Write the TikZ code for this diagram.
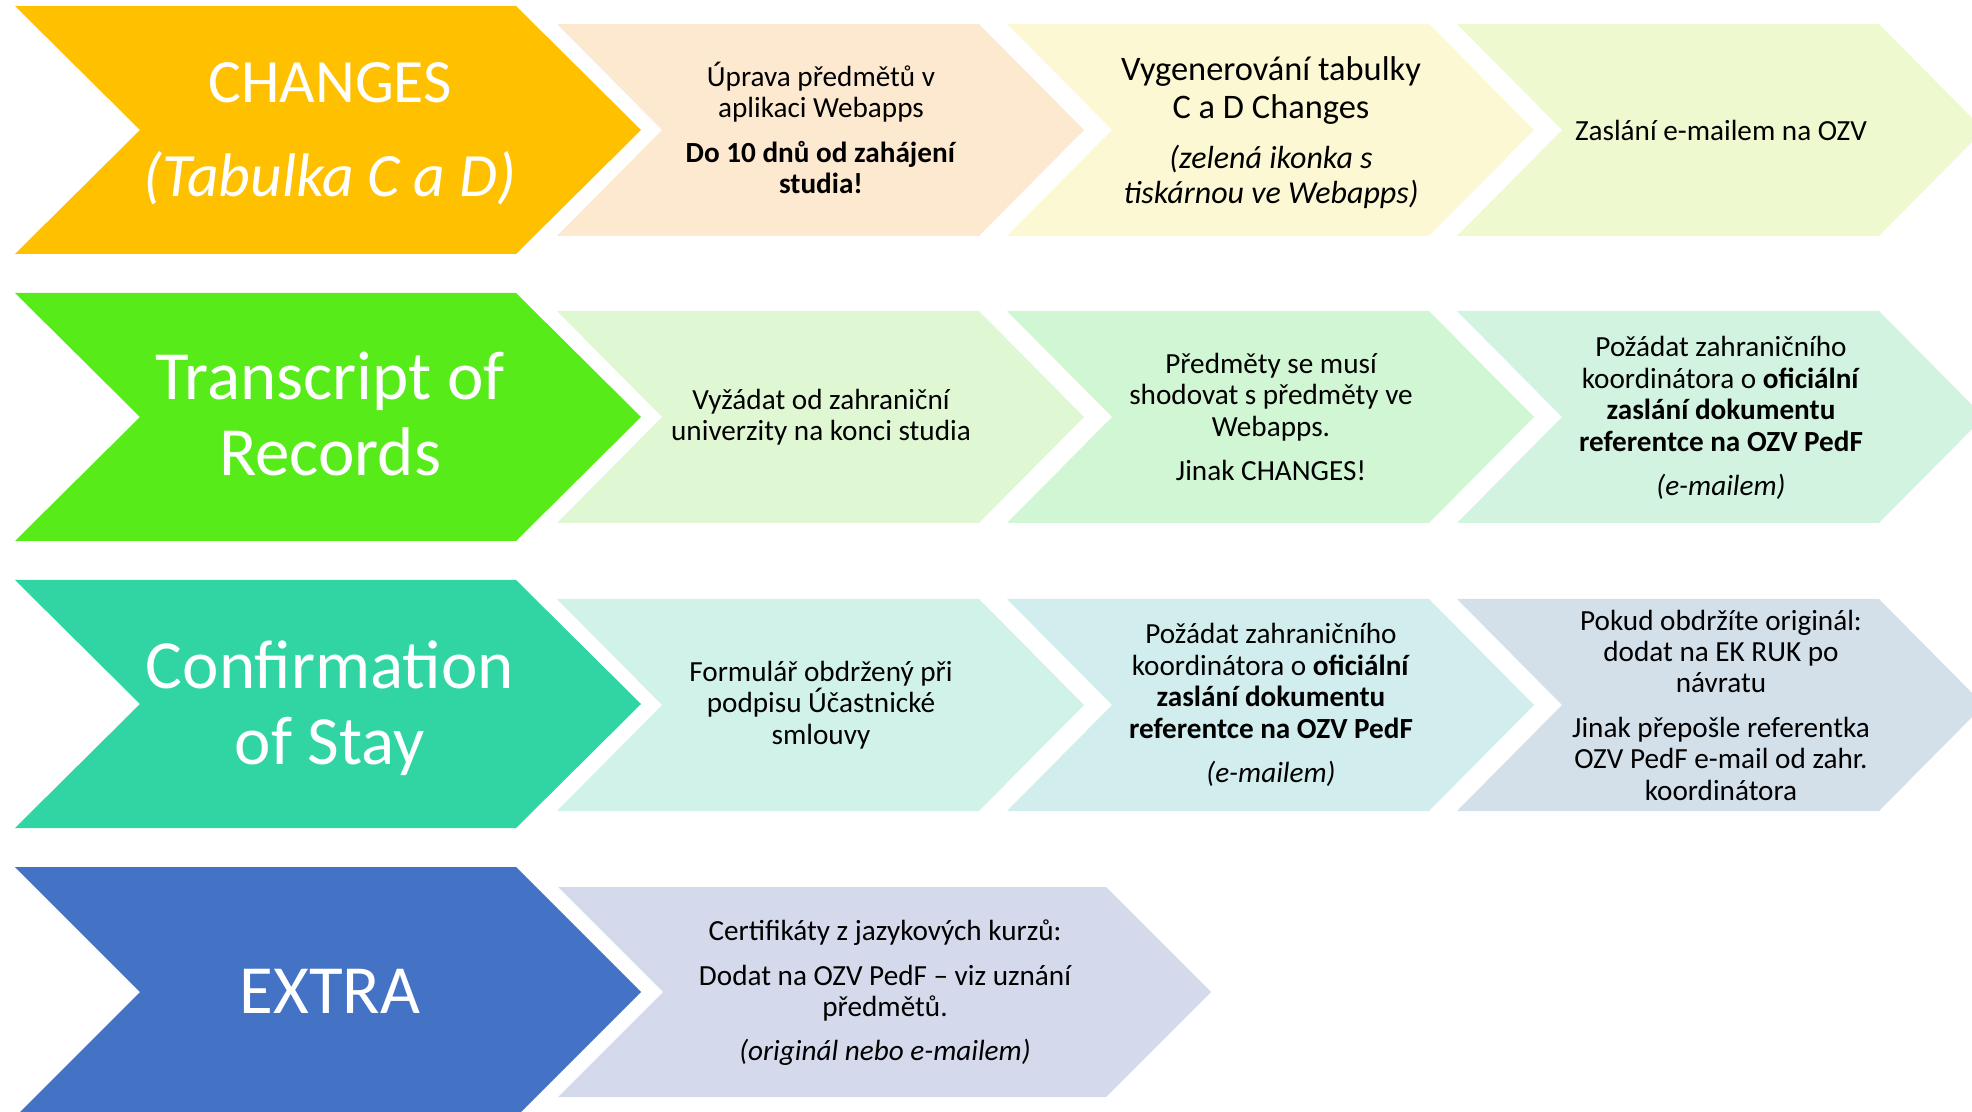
\documentclass[tikz,border=0pt]{standalone}
\usepackage{fontspec}
\setmainfont{Carlito}
\definecolor{zluta}{HTML}{FFC000}
\definecolor{zelena}{HTML}{58EB1A}
\definecolor{tyrkys}{HTML}{30D5A3}
\definecolor{modra}{HTML}{4472C4}
\definecolor{svA}{HTML}{FDE9D0}
\definecolor{svB}{HTML}{FCF8D3}
\definecolor{svC}{HTML}{EEF9D0}
\definecolor{svD}{HTML}{DFF8D3}
\definecolor{svE}{HTML}{D1F6D3}
\definecolor{svF}{HTML}{D1F3DF}
\definecolor{svG}{HTML}{D1F2E8}
\definecolor{svH}{HTML}{D1EDEE}
\definecolor{svI}{HTML}{D3E0EA}
\definecolor{svJ}{HTML}{D4DAEC}

\begin{document}
\begin{tikzpicture}[x=0.5pt,y=-0.5pt,
		boxtxt/.style={align=center, inner sep=0pt, font={\fontsize{14.6}{15.7}\selectfont}},
		headtxt/.style={align=center, inner sep=0pt, text=white, font={\fontsize{34.5}{38}\selectfont}}
	]
	\useasboundingbox (0,0) rectangle (1972,1112);
	\clip (0,0) rectangle (1972,1112);

	% CHANGES
	\fill[zluta] (15,6) -- ++(501,0) -- ++(125,124) -- ++(-125,124) -- ++(-501,0) -- ++(125,-124) -- cycle;
	\fill[svA] (557,24) -- ++(422,0) -- ++(105,106) -- ++(-105,106) -- ++(-422,0) -- ++(105,-106) -- cycle;
	\fill[svB] (1007,24) -- ++(422,0) -- ++(105,106) -- ++(-105,106) -- ++(-422,0) -- ++(105,-106) -- cycle;
	\fill[svC] (1457,24) -- ++(422,0) -- ++(105,106) -- ++(-105,106) -- ++(-422,0) -- ++(105,-106) -- cycle;

	\node[headtxt, font={\fontsize{30.8}{36}\selectfont}] (changes) at (330,134) {CHANGES\\[11pt]\textit{(Tabulka C a D)}};
	\node[boxtxt] (uprava) at (821,128) {Úprava předmětů v\\aplikaci Webapps\\[6.5pt]\textbf{Do 10 dnů od zahájení}\\\textbf{studia!}};
	\node[boxtxt, font={\fontsize{17.2}{18.9}\selectfont}] (vygen) at (1271,133) {Vygenerování tabulky\\C a D Changes\\[6pt]{\fontsize{16}{17.6}\selectfont\itshape (zelená ikonka s}\\[-1.3pt]{\fontsize{16}{17.6}\selectfont\itshape tiskárnou ve Webapps)}};
	\node[boxtxt] (zaslani) at (1721,130) {Zaslání e-mailem na OZV};

	% Transcript of Records
	\fill[zelena] (15,293) -- ++(501,0) -- ++(125,124) -- ++(-125,124) -- ++(-501,0) -- ++(125,-124) -- cycle;
	\fill[svD] (557,311) -- ++(422,0) -- ++(105,106) -- ++(-105,106) -- ++(-422,0) -- ++(105,-106) -- cycle;
	\fill[svE] (1007,311) -- ++(422,0) -- ++(105,106) -- ++(-105,106) -- ++(-422,0) -- ++(105,-106) -- cycle;
	\fill[svF] (1457,311) -- ++(422,0) -- ++(105,106) -- ++(-105,106) -- ++(-422,0) -- ++(105,-106) -- cycle;

	\node[headtxt] (transcript) at (330,414) {Transcript of\\Records};
	\node[boxtxt] (vyzadat) at (821,417) {Vyžádat od zahraniční\\univerzity na konci studia};
	\node[boxtxt] (shodovat) at (1271,417) {Předměty se musí\\shodovat s předměty ve\\Webapps.\\[6.5pt]Jinak CHANGES!};
	\node[boxtxt] (pozadatA) at (1721,418) {Požádat zahraničního\\koordinátora o \textbf{oficiální}\\\textbf{zaslání dokumentu}\\\textbf{referentce na OZV PedF}\\[6.5pt]\textit{(e-mailem)}};

	% Confirmation of Stay
	\fill[tyrkys] (15,580) -- ++(501,0) -- ++(125,124) -- ++(-125,124) -- ++(-501,0) -- ++(125,-124) -- cycle;
	\fill[svG] (557,599) -- ++(422,0) -- ++(105,106) -- ++(-105,106) -- ++(-422,0) -- ++(105,-106) -- cycle;
	\fill[svH] (1007,599) -- ++(422,0) -- ++(105,106) -- ++(-105,106) -- ++(-422,0) -- ++(105,-106) -- cycle;
	\fill[svI] (1457,599) -- ++(422,0) -- ++(105,106) -- ++(-105,106) -- ++(-422,0) -- ++(105,-106) -- cycle;

	\node[headtxt] (confirm) at (330,708) {Confirmation\\of Stay};
	\node[boxtxt] (formular) at (821,705) {Formulář obdržený při\\podpisu Účastnické\\smlouvy};
	\node[boxtxt] (pozadatB) at (1271,705) {Požádat zahraničního\\koordinátora o \textbf{oficiální}\\\textbf{zaslání dokumentu}\\\textbf{referentce na OZV PedF}\\[6.5pt]\textit{(e-mailem)}};
	\node[boxtxt] (original) at (1721,705) {Pokud obdržíte originál:\\dodat na EK RUK po\\návratu\\[6.5pt]Jinak přepošle referentka\\OZV PedF e-mail od zahr.\\koordinátora};

	% EXTRA
	\fill[modra] (15,867) -- ++(501,0) -- ++(125,125) -- ++(-125,125) -- ++(-501,0) -- ++(125,-125) -- cycle;
	\fill[svJ] (558,887) -- ++(548,0) -- ++(105,105) -- ++(-105,105) -- ++(-548,0) -- ++(105,-105) -- cycle;

	\node[headtxt] (extra) at (330,991) {EXTRA};
	\node[boxtxt] (certif) at (885,993) {Certifikáty z jazykových kurzů:\\[6.5pt]Dodat na OZV PedF – viz uznání\\předmětů.\\[6.5pt]\textit{(originál nebo e-mailem)}};
\end{tikzpicture}
\end{document}
